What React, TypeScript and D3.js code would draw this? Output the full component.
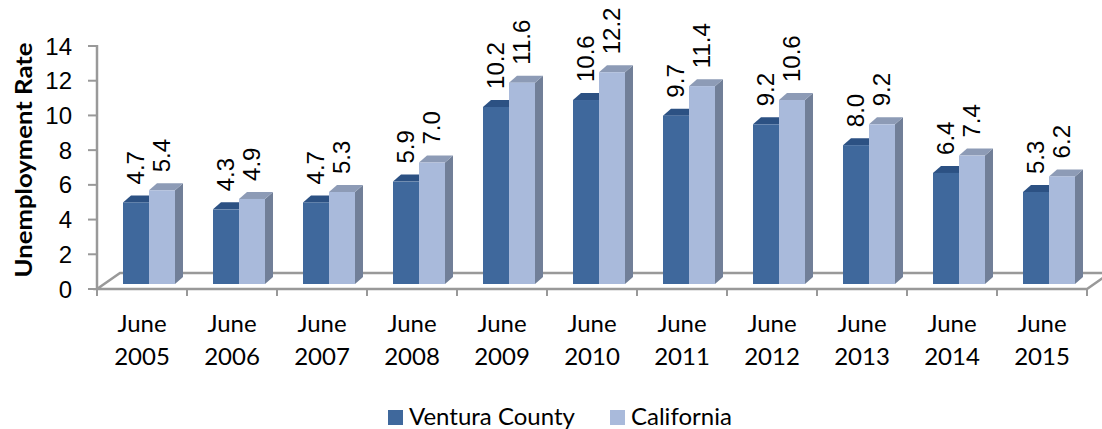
import React from 'react'
import { scaleBand, scaleLinear } from 'd3'

const categories = ['2005', '2006', '2007', '2008', '2009', '2010', '2011', '2012', '2013', '2014', '2015']
const ventura = [4.7, 4.3, 4.7, 5.9, 10.2, 10.6, 9.7, 9.2, 8.0, 6.4, 5.3]
const california = [5.4, 4.9, 5.3, 7.0, 11.6, 12.2, 11.4, 10.6, 9.2, 7.4, 6.2]
const yTicks = [0, 2, 4, 6, 8, 10, 12, 14]
const seriesNames = ['Ventura County', 'California']

const W = 1102
const H = 429
const LEFT = 97
const RIGHT = 1087
const FLOOR_Y = 289
const TOP_Y = 46
const FLOOR_DX = 23
const FLOOR_DY = -16
const BAR_SHIFT = -5 // bars sit a little back on the floor
const DEPTH = { dx: 8, dy: -7 }
const AXIS = '#999999'
const VALUE_FONT = '"Liberation Sans", Arial, sans-serif'
const LABEL_FONT = 'Lato, "Open Sans", sans-serif'

const colors = [
  { front: '#3f689c', top: '#2c5183', side: '#2b4b74' },
  { front: '#a9badb', top: '#8d9bb6', side: '#717f98' },
]

function App() {
  const x = scaleBand().domain(categories).range([LEFT, RIGHT]).padding(0)
  const sub = scaleBand().domain(seriesNames).range([26, 78]).padding(0)
  const y = scaleLinear().domain([0, 14]).range([FLOOR_Y, TOP_Y])
  const series = [ventura, california]

  const floor = [
    [LEFT, FLOOR_Y],
    [RIGHT, FLOOR_Y],
    [RIGHT + FLOOR_DX, FLOOR_Y + FLOOR_DY],
    [LEFT + FLOOR_DX, FLOOR_Y + FLOOR_DY],
  ]

  return (
    <svg width={W} height={H} style={{ position: 'absolute', left: 0, top: 0, background: '#fff' }}>
      {/* floor */}
      <polygon points={floor.map(p => p.join(',')).join(' ')} fill="#fff" stroke={AXIS} strokeWidth={2.5} />
      {/* y axis */}
      <line x1={LEFT} x2={LEFT} y1={TOP_Y - 1} y2={FLOOR_Y} stroke={AXIS} strokeWidth={2.5} />
      {yTicks.map(t => (
        <g key={t}>
          <line x1={LEFT - 9} x2={LEFT} y1={y(t)} y2={y(t)} stroke={AXIS} strokeWidth={2} />
          <text x={72} y={y(t)} dy="0.36em" textAnchor="end" fontSize={24} fontFamily={VALUE_FONT} fill="#000">
            {t}
          </text>
        </g>
      ))}
      {/* x ticks */}
      {[...categories.map(c => x(c)), RIGHT].map((px, i) => (
        <line key={i} x1={px} x2={px} y1={FLOOR_Y} y2={FLOOR_Y + 7} stroke={AXIS} strokeWidth={2} />
      ))}
      {/* bars */}
      {categories.map((c, i) =>
        series.map((s, si) => {
          const v = s[i]
          const x0 = x(c) + sub(seriesNames[si])
          const w = sub.bandwidth()
          const yb = y(0) + BAR_SHIFT
          const yt = y(v) + BAR_SHIFT
          const col = colors[si]
          const { dx, dy } = DEPTH
          return (
            <g key={c + si}>
              <polygon
                points={`${x0 + w},${yt} ${x0 + w + dx},${yt + dy} ${x0 + w + dx},${yb + dy} ${x0 + w},${yb}`}
                fill={col.side}
              />
              <polygon
                points={`${x0},${yt} ${x0 + dx},${yt + dy} ${x0 + w + dx},${yt + dy} ${x0 + w},${yt}`}
                fill={col.top}
              />
              <rect x={x0} y={yt} width={w} height={yb - yt} fill={col.front} />
              <text
                transform={`translate(${x0 + w / 2 + 8},${yt - 18}) rotate(-90)`}
                fontSize={24}
                fontFamily={VALUE_FONT}
                fill="#000"
              >
                {v.toFixed(1)}
              </text>
            </g>
          )
        })
      )}
      {/* category labels */}
      {categories.map(c => (
        <text key={c} textAnchor="middle" fontSize={24} fontFamily={LABEL_FONT} fill="#000">
          <tspan x={x(c) + x.bandwidth() / 2} y={332}>June</tspan>
          <tspan x={x(c) + x.bandwidth() / 2} y={365}>{c}</tspan>
        </text>
      ))}
      {/* axis title */}
      <text
        transform="translate(32,160) rotate(-90)"
        textAnchor="middle"
        fontSize={23}
        fontWeight="bold"
        fontFamily={LABEL_FONT}
        textLength={235}
        lengthAdjust="spacingAndGlyphs"
        fill="#000"
      >
        Unemployment Rate
      </text>
      {/* legend */}
      {seriesNames.map((n, i) => {
        const lx = i === 0 ? 388 : 610
        return (
          <g key={n}>
            <rect x={lx} y={410} width={15} height={15} fill={colors[i].front} />
            <text x={lx + 21} y={425} fontSize={24} fontFamily={LABEL_FONT} fill="#000">
              {n}
            </text>
          </g>
        )
      })}
    </svg>
  )
}

export default App
